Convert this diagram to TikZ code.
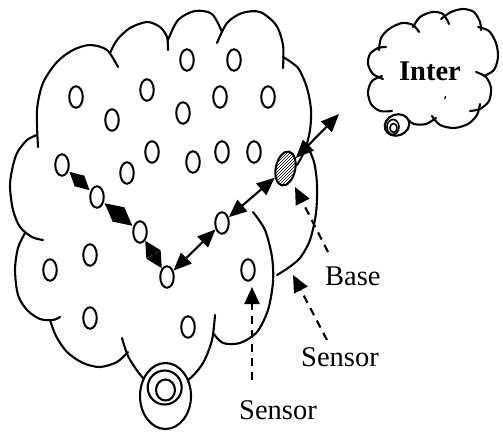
\documentclass[tikz,border=0pt]{standalone}
\usepackage{fontspec}
\setmainfont{Liberation Serif}
\usetikzlibrary{shapes.geometric,arrows.meta,patterns}

\tikzset{
  outline/.style={line width=2.1pt, line cap=round},
  sensor/.style={ellipse, draw, line width=2pt, fill=white,
                 minimum width=13.5pt, minimum height=21.5pt, inner sep=0pt},
  sink/.style={ellipse, draw, line width=2pt, pattern=north east lines,
               minimum width=19.5pt, minimum height=34.5pt, inner sep=0pt, rotate=-12},
  link/.style={line width=2.1pt,
               {Triangle[length=18pt,width=15pt]}-{Triangle[length=18pt,width=15pt]}},
  hop/.style={line width=2pt,
               {Triangle[length=#1,width=#1]}-{Triangle[length=#1,width=#1]}},
  pointer/.style={line width=2.1pt, dash pattern=on 8pt off 6pt,
                  -{Triangle[length=17pt,width=15pt]}},
  caption/.style={font=\fontsize{28.5}{30}\selectfont, inner sep=0pt, anchor=base west}
}

\begin{document}
\begin{tikzpicture}[x=1pt,y=-1pt]
\useasboundingbox (0,0) rectangle (503,431);

% ---- sensor field: scalloped cloud outline ----
\draw[outline] plot[smooth] coordinates {(38,147) (37,110) (43,83) (57,62) (73,50) (90,45) (107,50) (118,67)};
\draw[outline] plot[smooth] coordinates {(110,53) (117,40) (130,28) (147,22) (160,27) (167,37) (168,50)};
\draw[outline] plot[smooth] coordinates {(168,40) (178,20) (195,11) (212,14) (222,32)};
\draw[outline] plot[smooth] coordinates {(217,43) (227,23) (242,13) (260,12) (276,25) (283,45) (283,68)};
\draw[outline] plot[smooth] coordinates {(283,57) (298,68) (307,88) (311,110) (310,130) (305,150) (297,165)};
\draw[outline] plot[smooth] coordinates {(306,143) (314,162) (317,185) (316,213) (310,240) (300,258) (288,268) (277,275)};
\draw[outline] plot[smooth] coordinates {(253,212) (265,230) (272,257) (273,282) (268,310) (257,332) (240,343) (223,343) (213,333)};
\draw[outline] plot[smooth] coordinates {(122,338) (129,358) (145,380) (165,390) (188,380) (203,363) (212,340) (215,315)};
\draw[outline] plot[smooth] coordinates {(50,320) (56,336) (67,352) (83,363) (100,367) (117,362) (128,352)};
\draw[outline] plot[smooth] coordinates {(25,233) (18,248) (15,270) (18,295) (27,310) (40,319) (53,320) (60,317)};
\draw[outline] plot[smooth] coordinates {(37,135) (27,140) (17,153) (12,170) (10,187) (13,210) (20,227) (32,237) (43,240)};

% bubbles under the sensor field
\draw[outline, fill=white] (165.5,396) ellipse [x radius=25.5, y radius=33];
\draw[outline] (164.7,387.5) ellipse [x radius=17, y radius=17];
\draw[outline] (165.5,390) ellipse [x radius=9.5, y radius=10.5];

% ---- Internet cloud ----
\draw[outline] plot[smooth] coordinates {(379,50) (381,38) (389,29) (402,23) (413,25) (419,32)};
\draw[outline] plot[smooth] coordinates {(413,27) (420,17) (432,12) (443,14) (449,24)};
\draw[outline] plot[smooth] coordinates {(441,19) (451,12) (463,9) (474,12) (480,22) (481,30)};
\draw[outline] plot[smooth] coordinates {(478,27) (489,31) (496,43) (498,57) (494,70) (484,76)};
\draw[outline] plot[smooth] coordinates {(476,72) (486,77) (491,88) (489,101) (480,109) (470,111)};
\draw[outline] plot[smooth] coordinates {(480,104) (477,115) (468,124) (454,128) (440,125) (432,116)};
\draw[outline] plot[smooth] coordinates {(436,118) (426,124) (414,124) (406,118)};
\draw[outline] plot[smooth] coordinates {(392,111) (380,111) (371,104) (368,92) (372,81) (382,76)};
\draw[outline] plot[smooth] coordinates {(383,79) (373,74) (368,64) (370,54) (378,48) (386,47)};
\draw[line width=1.2pt] (445.5,96) -- (444.8,99);

\draw[outline, fill=white, rotate around={20:(397,125)}] (397,125) ellipse [x radius=12.5, y radius=10.5];
\draw[line width=1.6pt] (393,127) ellipse [x radius=6, y radius=7.5];
\draw[line width=1.6pt] (393.5,128) ellipse [x radius=3.5, y radius=4.5];

\node[font=\fontsize{28.5}{30}\selectfont\bfseries, inner sep=0pt, anchor=base] (inet) at (430,80) {Inter};

% ---- sensor nodes ----
\node[sensor] (n1)  at (76,97)   {};
\node[sensor] (n2)  at (112,120) {};
\node[sensor] (n3)  at (147,90)  {};
\node[sensor] (n4)  at (187,60)  {};
\node[sensor] (n5)  at (234,60)  {};
\node[sensor] (n6)  at (183,113) {};
\node[sensor] (n7)  at (220,97)  {};
\node[sensor] (n8)  at (268,97)  {};
\node[sensor] (n9)  at (152,152) {};
\node[sensor] (n10) at (127,173) {};
\node[sensor] (n11) at (193,162) {};
\node[sensor] (n12) at (222,152) {};
\node[sensor] (n13) at (254,152) {};
\node[sensor] (n14) at (62,165)  {};
\node[sensor] (n15) at (97,197)  {};
\node[sensor] (n16) at (140,232) {};
\node[sensor] (n17) at (222,223) {};
\node[sensor] (n18) at (167,277) {};
\node[sensor] (n19) at (90,255)  {};
\node[sensor] (n20) at (50,270)  {};
\node[sensor] (n21) at (248,270) {};
\node[sensor] (n22) at (90,318)  {};
\node[sensor] (n23) at (188,327) {};

% base station
\node[sink] (base) at (285.5,168.5) {};

% ---- multi-hop route (short hops: heads meet base to base) ----
\draw[hop=14pt, shorten <=1pt, shorten >=1pt] (n14) -- (n15);
\draw[hop=18pt, shorten <=1pt, shorten >=1pt] (n15) -- (n16);
\draw[hop=16pt] (n16) -- (n18);
\draw[link] (n18) -- (n17);
\draw[link] (n17) -- (base);
\coordinate (uplink) at (339,114);
\draw[link] (base) -- (uplink);

% ---- labels with pointers ----
\node[caption] (lbase) at (325,285) {Base};
\node[caption] (lsens1) at (301,366) {Sensor};
\node[caption] (lsens2) at (239,419) {Sensor};

\coordinate (pbase) at (328,252);
\coordinate (tbase) at (295,187);
\coordinate (psens1) at (327,340);
\coordinate (tsens1) at (293,275);
\coordinate (psens2) at (252,380);
\coordinate (tsens2) at (252,287);
\draw[pointer] (pbase) -- (tbase);
\draw[pointer] (psens1) -- (tsens1);
\draw[pointer] (psens2) -- (tsens2);
\end{tikzpicture}
\end{document}
